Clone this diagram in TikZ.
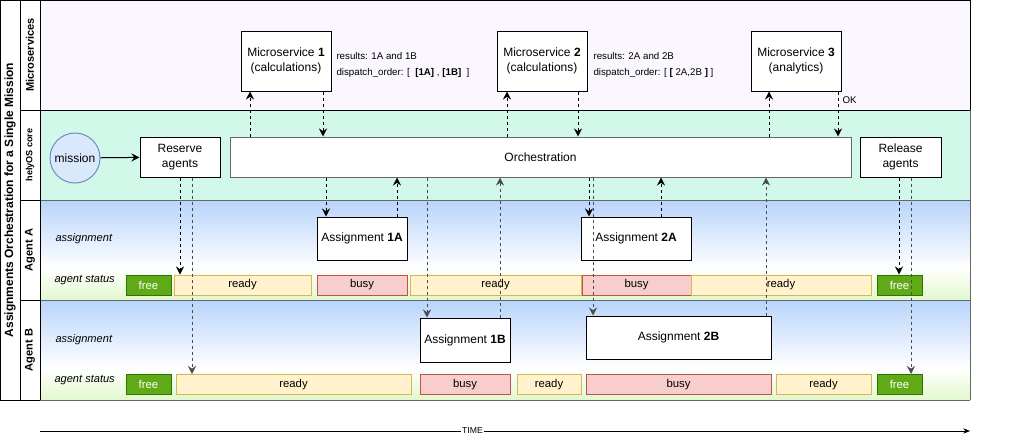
\documentclass[tikz,border=0pt]{standalone}
\usepackage{fontspec}
\setmainfont{Liberation Sans}
\usetikzlibrary{arrows.meta}

\definecolor{mslane}{HTML}{FAF7FF}
\definecolor{corelane}{HTML}{D2F8EA}
\definecolor{agtop}{HTML}{B8D4FB}
\definecolor{stbot}{HTML}{E2F8CC}
\definecolor{readyfill}{HTML}{FFF2CC}
\definecolor{readyline}{HTML}{D6B656}
\definecolor{busyfill}{HTML}{F8CECC}
\definecolor{busyline}{HTML}{B85450}
\definecolor{freefill}{HTML}{60A917}
\definecolor{freeline}{HTML}{2D7600}
\definecolor{missfill}{HTML}{DAE8FC}
\definecolor{missline}{HTML}{6C8EBF}
\definecolor{laneline}{HTML}{666666}

\tikzset{every picture/.style={line width=0.75pt}}
\tikzset{
  box/.style={draw, fill=white, align=center, inner sep=0pt, font=\fontsize{9}{11.5}\selectfont},
  note/.style={anchor=west, align=left, inner sep=0pt, font=\fontsize{7.3}{12}\selectfont},
  lanelbl/.style={rotate=90, inner sep=0pt, font=\bfseries\fontsize{8.3}{10}\selectfont},
  rowlbl/.style={anchor=west, inner sep=0pt, font=\itshape\fontsize{8.3}{10}\selectfont},
  st/.style={draw, inner sep=0pt, minimum height=15pt, font=\fontsize{8.5}{10}\selectfont},
  st ready/.style={st, fill=readyfill, draw=readyline},
  st busy/.style={st, fill=busyfill, draw=busyline},
  st free/.style={st, fill=freefill, draw=freeline, text=white},
  flow/.style={dash pattern=on 2.25pt off 2.25pt, -{Stealth[length=6pt,width=6pt,inset=2pt]}},
  flowb/.style={flow, draw=black!70},
}

\begin{document}
\begin{tikzpicture}[x=0.75pt,y=0.75pt,yscale=-1,xscale=1]

\useasboundingbox (0,0) rectangle (1019,440);

% lanes
\fill [mslane] (40,0) rectangle (970,110);
\fill [corelane] (40,110) rectangle (970,200);
\fill [top color=agtop, bottom color=white] (40,200) rectangle (970,268);
\fill [top color=white, bottom color=stbot] (40,268) rectangle (970,300);
\fill [top color=agtop, bottom color=white] (40,300) rectangle (970,368);
\fill [top color=white, bottom color=stbot] (40,368) rectangle (970,400);

\draw [laneline]  (40,200) -- (970,200) ;
\draw [laneline]  (40,300) -- (970,300) ;
\draw [laneline]  (40,400) -- (970,400) ;
\draw [laneline]  (970,110) -- (970,400) ;
\draw  (0,400) -- (0,0) -- (970,0) -- (970,110) ;
\draw  (20,110) -- (970,110) ;
\draw  (20,0) -- (20,400) ;
\draw  (40,0) -- (40,400) ;
\draw  (0,400) -- (40,400) ;
\draw  (20,200) -- (40,200) ;
\draw  (20,300) -- (40,300) ;

% lane labels
\node [lanelbl, font=\bfseries\fontsize{9}{11}\selectfont] (title) at (10,200) {Assignments Orchestration for a Single Mission};
\node [lanelbl] (lblms) at (30,55) {Microservices};
\node [lanelbl, font=\bfseries\fontsize{6.8}{8}\selectfont] (lblcore) at (30,155) {helyOS core};
\node [lanelbl] (lbla) at (30,250) {Agent A};
\node [lanelbl] (lblb) at (30,350) {Agent B};

\node [rowlbl] (asga) at (55,239) {assignment};
\node [rowlbl] (sta) at (54,280) {agent status};
\node [rowlbl] (asgb) at (55,340) {assignment};
\node [rowlbl] (stb) at (54,380) {agent status};

% microservices
\node [box, minimum width=67.5pt, minimum height=45pt] (ms1) at (286,61) {Microservice \textbf{1}\\(calculations)};
\node [box, minimum width=67.5pt, minimum height=45pt] (ms2) at (542,61) {Microservice \textbf{2}\\(calculations)};
\node [box, minimum width=67.5pt, minimum height=45pt] (ms3) at (796,61) {Microservice \textbf{3}\\(analytics)};
\node [note] (res1) at (336,65) {results: 1A and 1B\\dispatch\_order: [\ \ \textbf{[1A]} , \textbf{[1B]}\ \ ]};
\node [note] (res2) at (593,65) {results: 2A and 2B\\dispatch\_order: [ \textbf{[} 2A,2B \textbf{]} ]};

% helyOS core
\node [draw=missline, fill=missfill, circle, minimum size=37.5pt, inner sep=0pt, font=\fontsize{9}{11}\selectfont] (mission) at (75,158) {mission};
\node [box, minimum width=60pt, minimum height=30pt] (res) at (180,157) {Reserve\\agents};
\node [box, draw=laneline, minimum width=465.75pt, minimum height=30pt] (orch) at (540.5,157) {Orchestration};
\node [box, minimum width=60.75pt, minimum height=30pt] (rel) at (900.5,157) {Release\\agents};

% assignments
\node [box, minimum width=67.5pt, minimum height=32.25pt] (a1a) at (362,238.5) {Assignment \textbf{1A}};
\node [box, minimum width=82.5pt, minimum height=32.25pt] (a2a) at (636,238.5) {Assignment \textbf{2A}};
\node [box, minimum width=67.5pt, minimum height=33pt] (a1b) at (465,340) {Assignment \textbf{1B}};
\node [box, minimum width=138.75pt, minimum height=32.25pt] (a2b) at (678.5,337.5) {Assignment \textbf{2B}};

% agent status bars
\foreach \nm/\st/\xa/\xb/\yy in {fa1/free/126/171/285, ra1/ready/174/311/285, ba1/busy/317/407/285,
    ra2/ready/410/581/285, ba2/busy/582/691/285, ra3/ready/691/871/285, fa2/free/877/922/285,
    fb1/free/126/171/384.5, rb1/ready/176/411/384.5, bb1/busy/420/510/384.5, rb2/ready/517/581/384.5,
    bb2/busy/586/771/384.5, rb3/ready/776/871/384.5, fb2/free/877/922/384.5}
  \node [st \st, minimum width={(\xb-\xa)*0.75pt}] (\nm) at ({(\xa+\xb)/2},\yy) {\st};

% connectors
\draw [-{Stealth[length=6pt,width=6pt,inset=2pt]}] (mission) -- (res);
\draw [flow] (250,0 |- orch.north) -- (250,0 |- ms1.south);
\draw [flow] (323,0 |- ms1.south) -- (323,0 |- orch.north);
\draw [flow] (507,0 |- orch.north) -- (507,0 |- ms2.south);
\draw [flow] (578,0 |- ms2.south) -- (578,0 |- orch.north);
\draw [flow] (769,0 |- orch.north) -- (769,0 |- ms3.south);
\draw [flow] (838,0 |- ms3.south) -- node [pos=0.2, anchor=west, inner sep=0pt, xshift=3pt, font=\fontsize{7.3}{9}\selectfont] {OK} (838,0 |- orch.north);

\draw [flow] (180,0 |- res.south) -- (180,0 |- ra1.north);
\draw [flowb] (192,0 |- res.south) -- (192,0 |- rb1.north);
\draw [flow] (326,0 |- orch.south) -- (326,0 |- a1a.north);
\draw [flow] (397,0 |- a1a.north) -- (397,0 |- orch.south);
\draw [flowb] (427,0 |- orch.south) -- (427,0 |- a1b.north);
\draw [flowb] (500,0 |- a1b.north) -- (500,0 |- orch.south);
\draw [flow] (589,0 |- orch.south) -- (589,0 |- a2a.north);
\draw [flowb] (593,0 |- orch.south) -- (593,0 |- a2b.north);
\draw [flow] (661,0 |- a2a.north) -- (661,0 |- orch.south);
\draw [flowb] (766,0 |- a2b.north) -- (766,0 |- orch.south);
\draw [flow] (899,0 |- rel.south) -- (899,0 |- fa2.north);
\draw [flowb] (911,0 |- rel.south) -- (911,0 |- fb2.north);

% time axis
\coordinate (t0) at (40,431);
\coordinate (t1) at (970,431);
\draw [-{Stealth[length=5pt,width=4pt,inset=1.5pt]}] (t0) -- node [pos=0.465, fill=white, inner sep=0.75pt, font=\fontsize{6.5}{8}\selectfont] {TIME} (t1);

\end{tikzpicture}
\end{document}
